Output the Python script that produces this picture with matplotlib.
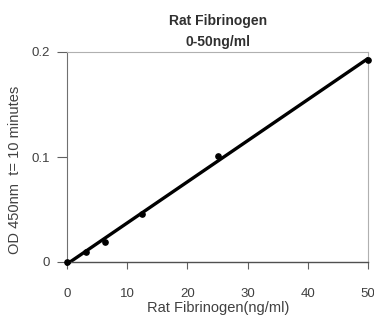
import matplotlib
matplotlib.use("Agg")
import matplotlib.pyplot as plt
import numpy as np

plt.rcParams['font.family'] = ['Liberation Sans', 'DejaVu Sans']

conc = [0, 3.125, 6.25, 12.5, 25, 50]
od = [0.0, 0.0095, 0.019, 0.046, 0.101, 0.192]
xticks = [0, 10, 20, 30, 40, 50]
yticks = [0, 0.1, 0.2]
yticklabels = ['0', '0.1', '0.2']

W, H = 374, 316
fig = plt.figure(figsize=(W / 100, H / 100), dpi=100)
ax = fig.add_axes([67 / W, 1 - 262 / H, 301 / W, 210 / H])

coef = np.polyfit(conc, od, 1)
xs = np.array([0, 50])
ax.plot(xs, np.polyval(coef, xs), color='black', lw=2.4, solid_capstyle='round', clip_on=False)
ax.plot(conc, od, 'o', color='black', ms=3.8, clip_on=False, zorder=3)

ax.set_xlim(0, 50)
ax.set_ylim(0, 0.2)
ax.set_xticks(xticks)
ax.set_yticks(yticks)
ax.set_yticklabels(yticklabels)
for s in ['top', 'right']:
    ax.spines[s].set_color('#b0b0b0')
    ax.spines[s].set_linewidth(0.8)
ax.spines['left'].set_color('#707070')
ax.spines['bottom'].set_color('#505050')
ax.spines['left'].set_linewidth(0.8)
ax.spines['bottom'].set_linewidth(1.0)
ax.tick_params(axis='both', direction='out', width=0.8, color='#606060',
               labelsize=9.5, labelcolor='#404040')
ax.tick_params(axis='x', length=5, pad=14)
ax.tick_params(axis='y', length=7, pad=5)

fig.text(218 / W, 1 - 308 / H, 'Rat Fibrinogen(ng/ml)', fontsize=10.5, color='#404040',
         ha='center', va='center')
fig.text(15 / W, 1 - 170 / H, 'OD 450nm  t= 10 minutes', fontsize=10.5, color='#404040',
         ha='center', va='center', rotation=90)
fig.text(218 / W, 1 - 21 / H, 'Rat Fibrinogen', fontsize=10, fontweight='bold',
         color='#303030', ha='center', va='center')
fig.text(218 / W, 1 - 42 / H, '0-50ng/ml', fontsize=10, fontweight='bold',
         color='#303030', ha='center', va='center')

fig.savefig('out.png', dpi=100)
